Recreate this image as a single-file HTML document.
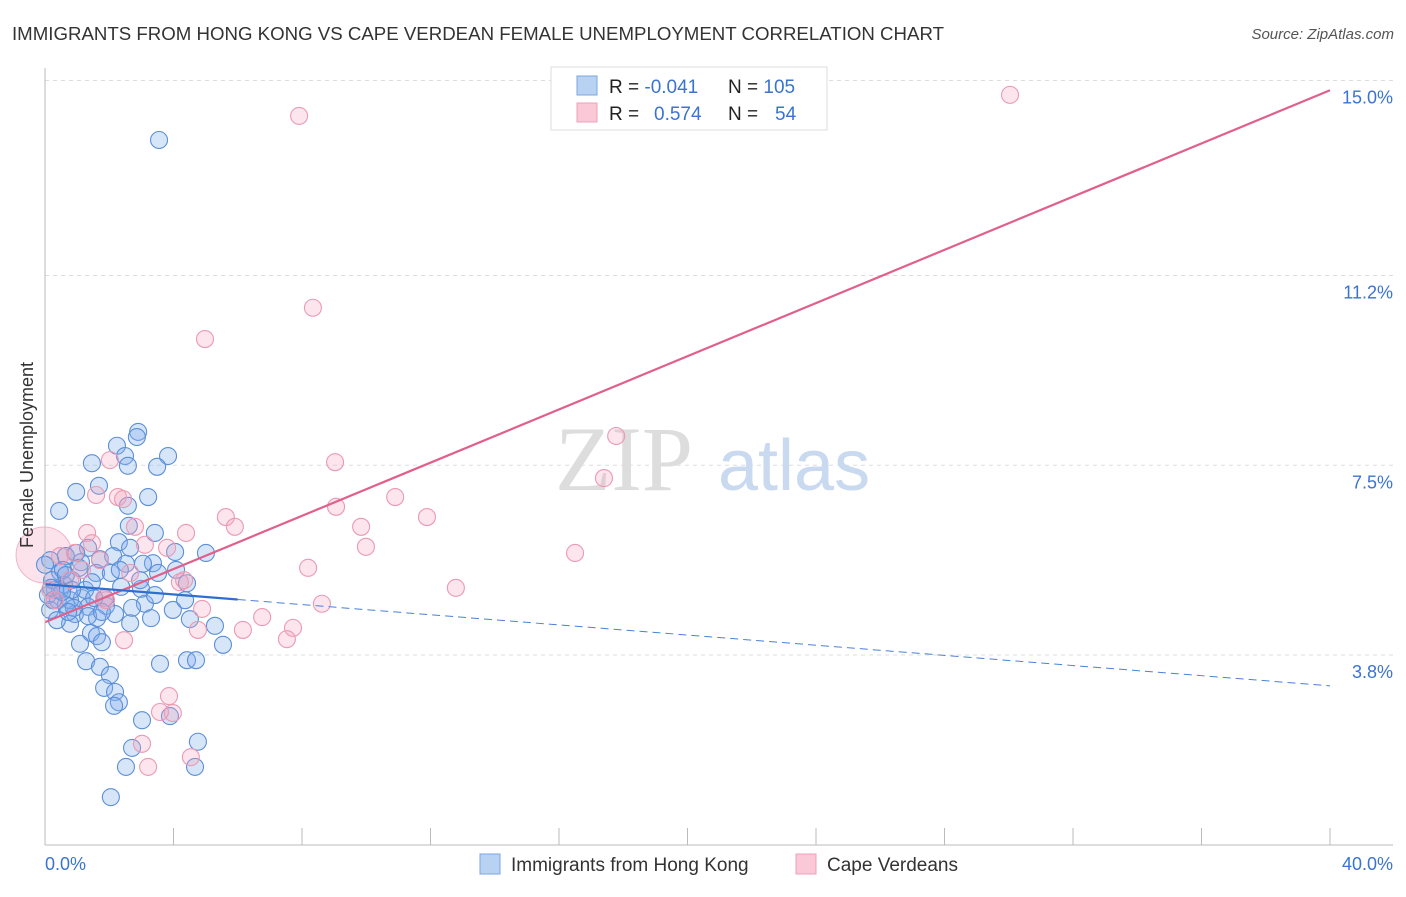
<!DOCTYPE html>
<html><head><meta charset="utf-8"><style>
body{margin:0;background:#fff;font-family:"Liberation Sans",sans-serif}
svg text{font-family:"Liberation Sans",sans-serif}
</style></head><body>
<svg id="chart" width="1406" height="892" xmlns="http://www.w3.org/2000/svg">
<text x="12" y="40" font-size="18" fill="#333" textLength="932" lengthAdjust="spacingAndGlyphs">IMMIGRANTS FROM HONG KONG VS CAPE VERDEAN FEMALE UNEMPLOYMENT CORRELATION CHART</text>
<text x="1394" y="39" font-size="15" fill="#555" text-anchor="end" font-style="italic">Source: ZipAtlas.com</text>
<g id="grid"></g>
<g>
<text x="555" y="490" font-size="92" fill="#ddd" font-family="Liberation Serif" style="font-family:'Liberation Serif',serif">ZIP</text>
<text x="718" y="490" font-size="72" fill="#c8d9f0">atlas</text>
</g>
<g id="marks"></g>
<line x1="45" y1="68" x2="45" y2="845" stroke="#bbb"/>
<line x1="45" y1="845" x2="1393" y2="845" stroke="#bbb"/>
<g id="xticks"></g>
<text transform="translate(33,455) rotate(-90)" font-size="18" fill="#333" text-anchor="middle">Female Unemployment</text>
<text x="45" y="870" font-size="18" fill="#3a74d0">0.0%</text>
<text x="1393" y="870" font-size="18" fill="#3a74d0" text-anchor="end">40.0%</text>
<g>
<rect x="551" y="67" width="276" height="63" fill="#fff" stroke="#ddd"/>
<rect x="577" y="76" width="20" height="19" fill="#b8d2f4" stroke="#7aa6e0"/>
<rect x="577" y="103" width="20" height="19" fill="#fac8d6" stroke="#eea0b8"/>
<text x="609" y="93" font-size="19" fill="#222">R = <tspan fill="#3a74d0">-0.041</tspan><tspan x="728">N = </tspan><tspan fill="#3a74d0">105</tspan></text>
<text x="609" y="120" font-size="19" fill="#222">R = <tspan x="654" fill="#3a74d0">0.574</tspan><tspan x="728">N = </tspan><tspan x="775" fill="#3a74d0">54</tspan></text>
</g>
<g>
<rect x="480" y="854" width="20" height="20" fill="#b8d2f4" stroke="#7aa6e0"/>
<text x="511" y="871" font-size="19" fill="#333">Immigrants from Hong Kong</text>
<rect x="796" y="854" width="20" height="20" fill="#fac8d6" stroke="#eea0b8"/>
<text x="827" y="871" font-size="19" fill="#333">Cape Verdeans</text>
</g>
</svg>
<script>
const yTicks=[3.8,7.5,11.2,15.0];
const yTickLabels=["3.8%","7.5%","11.2%","15.0%"];
const blueX=[3.55,0.44,2.90,2.86,2.24,2.49,1.46,2.58,3.83,3.49,0.97,1.68,3.21,2.58,2.61,3.42,2.30,1.34,0.97,2.12,5.01,4.05,3.36,3.05,2.52,1.12,1.71,0.65,0.16,0.47,1.59,2.05,3.52,4.08,4.42,2.99,2.37,0.84,0.59,0.31,0.09,0.40,0.65,1.15,1.90,1.34,3.11,2.71,3.98,4.51,3.30,1.62,2.18,0.93,0.78,1.43,1.62,2.65,5.29,5.54,1.77,1.09,1.28,1.71,3.58,4.42,4.70,2.02,1.84,2.18,2.30,2.15,3.02,3.89,4.76,2.71,2.52,4.67,2.05,0.22,0.47,0.16,0.78,1.25,0.56,1.87,1.46,1.06,0.25,0.37,1.34,0.84,2.65,0.00,1.77,2.33,0.53,3.42,4.36,0.19,0.65,0.90,1.53,2.96,0.72];
const blueY=[13.84,6.61,8.15,8.05,7.88,7.68,7.54,7.49,7.68,7.47,6.98,7.10,6.88,6.71,6.32,6.18,6.00,5.89,5.79,5.73,5.79,5.81,5.59,5.58,5.58,5.61,5.67,5.73,5.65,5.42,5.40,5.40,5.40,5.46,5.20,5.09,5.13,5.26,5.17,5.07,4.97,4.87,4.78,4.91,4.76,4.74,4.80,4.72,4.68,4.50,4.52,4.52,4.60,4.60,4.41,4.23,4.17,4.42,4.37,4.00,4.05,4.02,3.68,3.57,3.63,3.70,3.70,3.41,3.16,3.08,2.88,2.81,2.53,2.61,2.11,1.99,1.62,1.62,1.03,5.26,5.07,4.68,4.87,5.07,5.46,4.91,5.22,5.50,4.87,4.48,4.56,5.07,5.89,5.56,4.64,5.46,5.03,4.97,4.87,5.11,5.36,4.72,4.91,5.26,4.64];
const pinkX=[7.91,30.04,8.34,4.98,17.78,9.03,17.40,10.90,9.06,11.89,5.63,5.91,9.84,4.39,2.27,2.43,1.59,2.02,16.50,9.99,8.19,12.79,8.62,6.76,4.89,7.72,7.53,6.16,4.76,2.46,3.86,3.98,3.58,3.02,4.54,3.21,1.31,1.46,0.47,0.93,1.15,2.80,3.80,4.20,1.84,2.65,4.33,1.90,0.16,0.78,1.71,0.31,3.11];
const pinkY=[14.31,14.72,10.57,9.96,8.07,7.56,7.25,6.88,6.69,6.49,6.49,6.30,6.30,6.18,6.88,6.84,6.92,7.60,5.79,5.91,5.50,5.11,4.80,4.54,4.70,4.33,4.11,4.29,4.29,4.09,3.00,2.67,2.69,2.07,1.81,1.62,6.18,5.98,5.73,5.79,5.46,6.30,5.89,5.22,4.91,5.40,5.26,4.87,5.07,5.26,5.65,4.87,5.95];
const bigPink=[-0.03,5.75];
const pinkTrend=[4.44,14.81];
const blueTrend=[5.18,3.20];
const blueSolidEnd=6.0;
const X=v=>45+v/40*1285, Y=v=>850-v*51.3;
const NS="http://www.w3.org/2000/svg";
function mk(t,a,p){const e=document.createElementNS(NS,t);for(const k in a)e.setAttribute(k,a[k]);p.appendChild(e);return e;}
const grid=document.getElementById('grid');
yTicks.forEach((t,i)=>{
 const l=mk('line',{x1:45,x2:1393,y1:Y(t),y2:Y(t),stroke:'#ddd','stroke-dasharray':'4,4'},grid);
 
 
 const tx=mk('text',{x:1393,y:Y(t)+23,'font-size':18,fill:'#3a74d0','text-anchor':'end'},grid);
 tx.textContent=yTickLabels[i];
 
 
});
const xt=document.getElementById('xticks');
for(let k=1;k<=10;k++){
 const l=mk('line',{x1:X(k*4),x2:X(k*4),y1:828,y2:845,stroke:'#bbb'},xt);
 
 
}
const m=document.getElementById('marks');
const bp=mk('circle',{cx:X(bigPink[0]),cy:Y(bigPink[1]),r:28,fill:'rgba(245,160,185,0.3)',stroke:'rgba(232,140,170,0.6)'},m);


blueX.forEach((x,i)=>{
 const c=mk('circle',{cx:X(x),cy:Y(blueY[i]),r:8.5,fill:'rgba(130,175,235,0.32)',stroke:'#5b8fd8','stroke-width':1.1},m);
 
 
});
pinkX.forEach((x,i)=>{
 const c=mk('circle',{cx:X(x),cy:Y(pinkY[i]),r:8.5,fill:'rgba(245,160,185,0.28)',stroke:'#eb9ab4','stroke-width':1.1},m);
 
 
});
const by=x=>blueTrend[0]+(blueTrend[1]-blueTrend[0])*x/40;
const l1=mk('line',{x1:X(0),y1:Y(pinkTrend[0]),x2:X(40),y2:Y(pinkTrend[1]),stroke:'#e0608a','stroke-width':2.2},m);


const l2=mk('line',{x1:X(0),y1:Y(by(0)),x2:X(blueSolidEnd),y2:Y(by(blueSolidEnd)),stroke:'#2f6fd0','stroke-width':2.2},m);


const l3=mk('line',{x1:X(blueSolidEnd),y1:Y(by(blueSolidEnd)),x2:X(40),y2:Y(by(40)),stroke:'#4a80d8','stroke-width':1,'stroke-dasharray':'8,5'},m);


</script>
</body></html>
